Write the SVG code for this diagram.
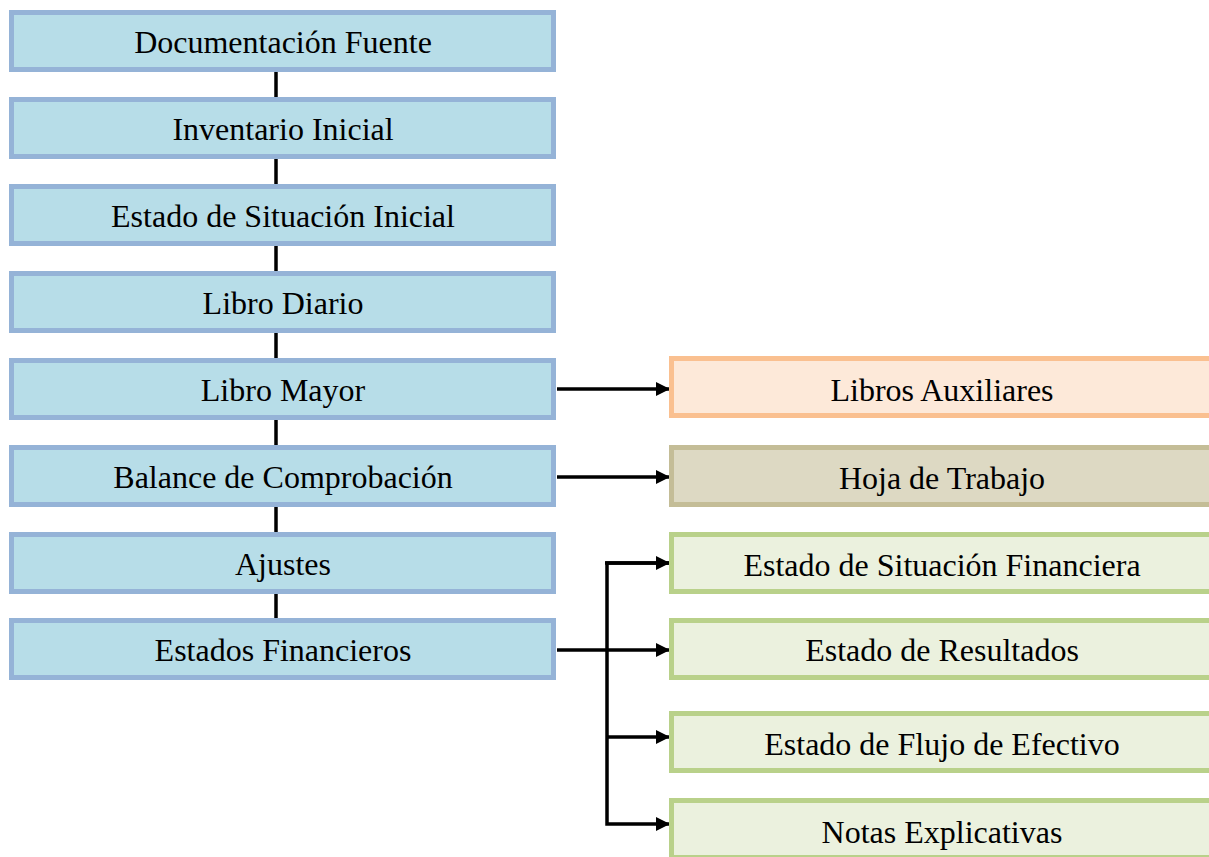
<svg xmlns="http://www.w3.org/2000/svg" width="1209" height="857" viewBox="0 0 1209 857">
<style>
.b rect{stroke-width:5}
.blue rect{fill:#B7DDE8;stroke:#95B3D7}
.org rect{fill:#FDE9D9;stroke:#FAC090}
.tan rect{fill:#DDD9C3;stroke:#C4BD97}
.grn rect{fill:#EBF1DE;stroke:#B9D18A}
text{font-family:"Liberation Serif","Times New Roman",serif;font-size:32px;fill:#000;text-anchor:middle}
.c{stroke:#000;stroke-width:3.5;fill:none}
</style>
<defs>
<marker id="ah" markerWidth="14" markerHeight="14" refX="13" refY="7" orient="auto" markerUnits="userSpaceOnUse" viewBox="0 0 14 14">
<path d="M0,0 L14,7 L0,14 z" fill="#000"/>
</marker>
</defs>
<g id="connectors">
<line class="c" x1="276" y1="72" x2="276" y2="97"/>
<line class="c" x1="276" y1="159" x2="276" y2="184"/>
<line class="c" x1="276" y1="246" x2="276" y2="271"/>
<line class="c" x1="276" y1="333" x2="276" y2="358"/>
<line class="c" x1="276" y1="420" x2="276" y2="445"/>
<line class="c" x1="276" y1="507" x2="276" y2="532"/>
<line class="c" x1="276" y1="594" x2="276" y2="618"/>
<line class="c" x1="557" y1="389" x2="669" y2="389" marker-end="url(#ah)"/>
<line class="c" x1="557" y1="477" x2="669" y2="477" marker-end="url(#ah)"/>
<line class="c" x1="557" y1="650" x2="669" y2="650" marker-end="url(#ah)"/>
<polyline class="c" points="669,563 607,563 607,824 669,824" marker-end="url(#ah)"/>
<line class="c" x1="605" y1="563" x2="669" y2="563" marker-end="url(#ah)"/>
<line class="c" x1="607" y1="737" x2="669" y2="737" marker-end="url(#ah)"/>
</g>
<g id="n1" class="b blue"><rect x="11.5" y="12.5" width="542" height="57"/><text x="283" y="53">Documentación Fuente</text></g>
<g id="n2" class="b blue"><rect x="11.5" y="99.5" width="542" height="57"/><text x="283" y="140">Inventario Inicial</text></g>
<g id="n3" class="b blue"><rect x="11.5" y="186.5" width="542" height="57"/><text x="283" y="227">Estado de Situación Inicial</text></g>
<g id="n4" class="b blue"><rect x="11.5" y="273.5" width="542" height="57"/><text x="283" y="314">Libro Diario</text></g>
<g id="n5" class="b blue"><rect x="11.5" y="360.5" width="542" height="57"/><text x="283" y="401">Libro Mayor</text></g>
<g id="n6" class="b blue"><rect x="11.5" y="447.5" width="542" height="57"/><text x="283" y="488">Balance de Comprobación</text></g>
<g id="n7" class="b blue"><rect x="11.5" y="534.5" width="542" height="57"/><text x="283" y="575">Ajustes</text></g>
<g id="n8" class="b blue"><rect x="11.5" y="620.5" width="542" height="57"/><text x="283" y="661">Estados Financieros</text></g>
<g id="n9" class="b org"><rect x="671.5" y="358.5" width="542" height="57"/><text x="942" y="401">Libros Auxiliares</text></g>
<g id="n10" class="b tan"><rect x="671.5" y="447.5" width="542" height="57"/><text x="942" y="489">Hoja de Trabajo</text></g>
<g id="n11" class="b grn"><rect x="671.5" y="534.5" width="542" height="57"/><text x="942" y="576">Estado de Situación Financiera</text></g>
<g id="n12" class="b grn"><rect x="671.5" y="620.5" width="542" height="57"/><text x="942" y="661">Estado de Resultados</text></g>
<g id="n13" class="b grn"><rect x="671.5" y="713.5" width="542" height="57"/><text x="942" y="755">Estado de Flujo de Efectivo</text></g>
<g id="n14" class="b grn"><rect x="671.5" y="800.5" width="542" height="57"/><text x="942" y="843">Notas Explicativas</text></g>
</svg>
